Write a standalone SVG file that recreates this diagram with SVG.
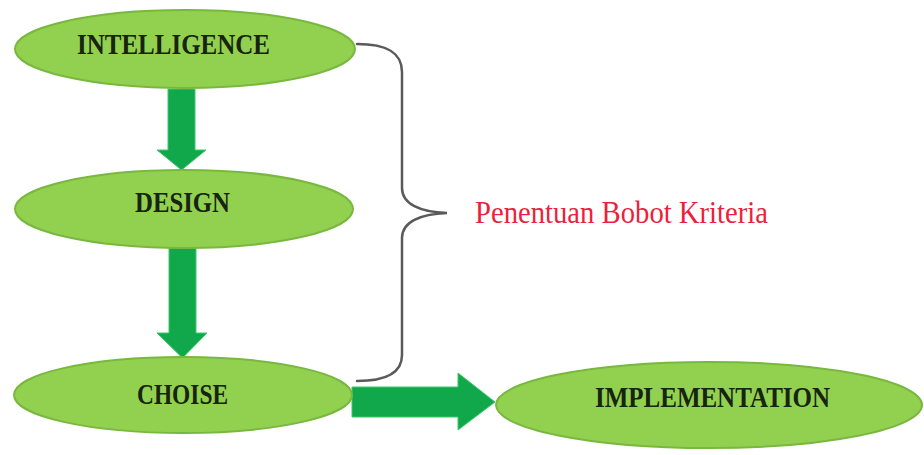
<svg xmlns="http://www.w3.org/2000/svg" width="924" height="455" viewBox="0 0 924 455">
  <defs>
    <style>
      .stage { fill: #92d050; stroke: #78b83e; stroke-width: 2; }
      .label { font-family: "Liberation Serif", "Times New Roman", serif; font-weight: bold; font-size: 30px; fill: #17240f; text-anchor: middle; }
      .flow { fill: #10a84a; stroke: #3ec86a; stroke-width: 1; }
      .brace { fill: none; stroke: #5a5a5a; stroke-width: 2.5; stroke-linecap: round; }
      .note { font-family: "Liberation Serif", "Times New Roman", serif; font-size: 32px; fill: #ec1f3c; }
    </style>
  </defs>
  <rect width="924" height="455" fill="#ffffff"/>

  <!-- connectors: block arrows between stages and the grouping brace -->
  <g id="connectors">
    <polygon class="flow" points="168,89 195,89 195,150 206,150 181.5,170 157,150 168,150"/>
    <polygon class="flow" points="169,248 196,248 196,333 207,333 182.5,358 157,333 169,333"/>
    <polygon class="flow" points="352,387 458,387 458,373 495,402 458,430 458,417 352,417"/>
    <path class="brace" d="M357,44 C386,44 402,52 402,72 L402,188 C402,204 420,212 447,213 C420,214 402,222 402,238 L402,355 C402,373 386,381 357,381"/>
  </g>

  <g id="intelligence">
    <ellipse class="stage" cx="185" cy="49" rx="170" ry="39"/>
    <text class="label" x="173.5" y="54" textLength="193" lengthAdjust="spacingAndGlyphs">INTELLIGENCE</text>
  </g>

  <g id="design">
    <ellipse class="stage" cx="184" cy="209" rx="169" ry="39"/>
    <text class="label" x="182.5" y="212" textLength="95" lengthAdjust="spacingAndGlyphs">DESIGN</text>
  </g>

  <g id="choise">
    <ellipse class="stage" cx="183" cy="395" rx="169" ry="38"/>
    <text class="label" x="182.5" y="404" textLength="91" lengthAdjust="spacingAndGlyphs">CHOISE</text>
  </g>

  <g id="implementation">
    <ellipse class="stage" cx="709" cy="405" rx="213" ry="43"/>
    <text class="label" x="712.5" y="407" textLength="235" lengthAdjust="spacingAndGlyphs">IMPLEMENTATION</text>
  </g>

  <g id="criteria-weighting">
    <text class="note" x="475" y="223" textLength="293" lengthAdjust="spacingAndGlyphs">Penentuan Bobot Kriteria</text>
  </g>
</svg>
